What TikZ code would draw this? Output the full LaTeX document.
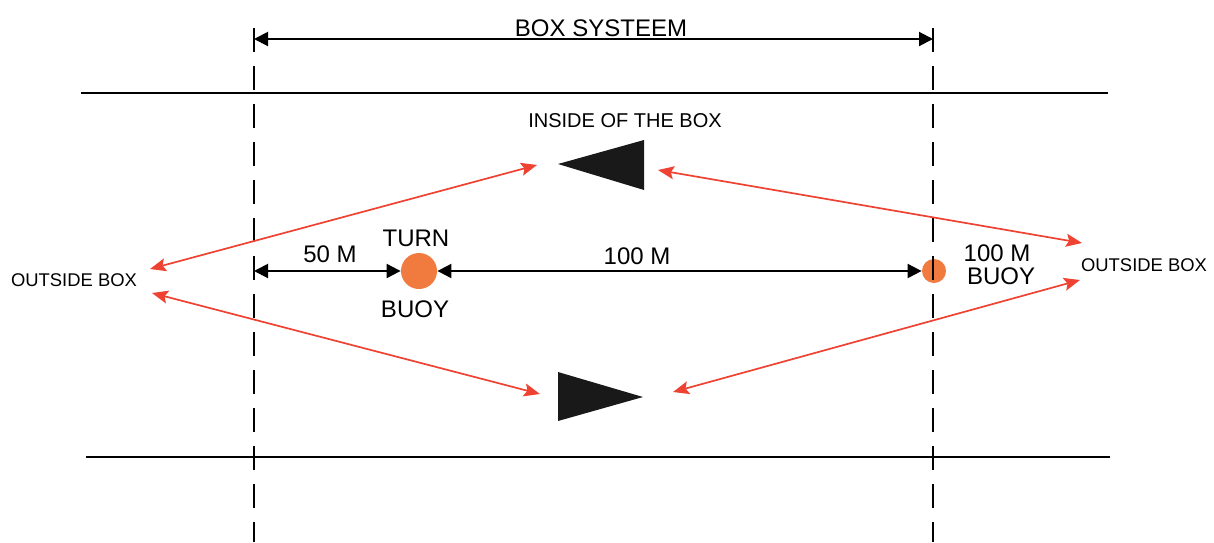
\documentclass[tikz,border=0pt]{standalone}
\usepackage{fontspec}
\setmainfont{Liberation Sans}
\usetikzlibrary{arrows.meta}
\definecolor{routered}{RGB}{238,66,50}
\definecolor{buoyorange}{RGB}{241,122,62}

\begin{document}
\begin{tikzpicture}[x=0.5pt,y=-0.5pt]
\tikzstyle{txt}=[inner sep=0pt,anchor=base,font=\fontsize{12}{14}\selectfont]
\tikzstyle{smalltxt}=[inner sep=0pt,anchor=base,font=\fontsize{9.2}{11}\selectfont]
\tikzstyle{buoy}=[circle,fill=buoyorange,inner sep=0pt]
\tikzstyle{guide}=[line width=1pt,dash pattern=on 12pt off 7pt]
\tikzstyle{dim}=[line width=1pt,{Triangle[length=7pt,width=7pt]}-{Triangle[length=7pt,width=7pt]}]
\tikzstyle{route}=[draw=routered,line width=0.85pt,{Stealth[length=8pt,width=6.5pt,inset=1.5pt]}-{Stealth[length=8pt,width=6.5pt,inset=1.5pt]}]
\useasboundingbox (0,0) rectangle (1214,542);
\foreach \name/\point in {
	gl1/{254,28},
	gl2/{254,542},
	gr1/{933,28},
	gr2/{933,542},
	bs1/{254,39},
	bs2/{933,39},
	top1/{81,93},
	top2/{1108,93},
	bot1/{86,457},
	bot2/{1110,457},
	dm/{254,271},
	ul1/{537,165},
	ul2/{150,269},
	ur1/{658,170},
	ur2/{1082,243},
	ll1/{152,293},
	ll2/{540,394},
	lr1/{673,392},
	lr2/{1080,280}}
	\coordinate (\name) at (\point);
\node[buoy,minimum size=18pt] (turn) at (419,271) {};
\node[buoy,minimum size=12pt] (far) at (934,271) {};
\draw[guide] (gl1) -- (gl2);
\draw[guide] (gr1) -- (gr2);
\draw[line width=1pt] (top1) -- (top2);
\draw[line width=1pt] (bot1) -- (bot2);
\draw[dim] (bs1) -- (bs2);
\node[txt] (systeem) at (601,36) {BOX SYSTEEM};
\node[txt,font=\fontsize{10}{12}\selectfont] (inside) at (625,127) {INSIDE OF THE BOX};
\fill[black!90] (558,164) -- (644,140) -- (644,190) -- cycle;
\fill[black!90] (558,372) -- (643,397) -- (558,421) -- cycle;
\draw[dim] (dm) -- (turn);
\draw[dim] (turn) -- (far);
\node[txt] (fifty) at (330,262) {50 M};
\node[txt] (hundred) at (637,264) {100 M};
\node[txt] (turntxt) at (416,246) {TURN};
\node[txt] (buoytxt) at (415,317) {BUOY};
\node[txt] (fartop) at (997,261) {100 M};
\node[txt] (farbot) at (1001,284) {BUOY};
\node[smalltxt] (outl) at (74,286) {OUTSIDE BOX};
\node[smalltxt] (outr) at (1144,271) {OUTSIDE BOX};
\draw[route] (ul1) -- (ul2);
\draw[route] (ur1) -- (ur2);
\draw[route] (ll1) -- (ll2);
\draw[route] (lr1) -- (lr2);
\end{tikzpicture}
\end{document}
